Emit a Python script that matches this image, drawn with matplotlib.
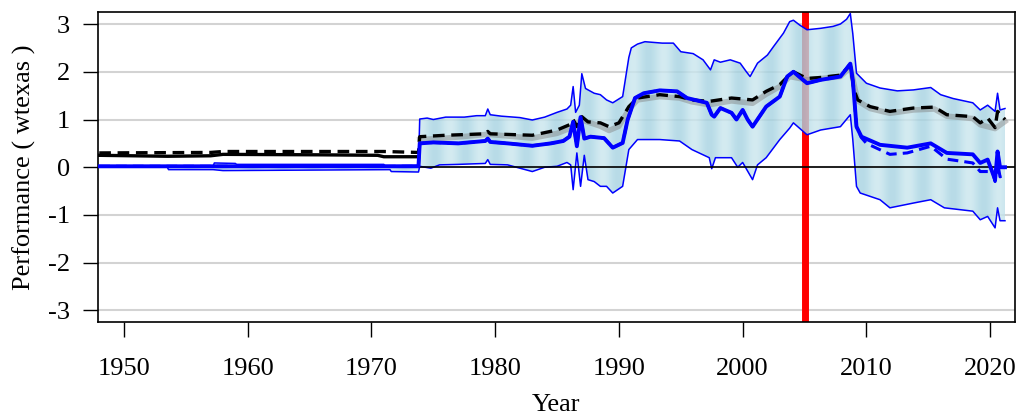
import numpy as np
import matplotlib
matplotlib.use("Agg")
import matplotlib.pyplot as plt
from matplotlib.colors import LinearSegmentedColormap

plt.rcParams['font.family'] = ['Liberation Serif', 'DejaVu Serif']

# band (upper / lower envelope)
upper_years = [1948.0, 1957.2, 1957.3, 1959.0, 1959.1, 1971.0, 1971.1, 1973.8, 1973.9, 1974.5,
               1975.0, 1976.0, 1977.5, 1978.5, 1979.2, 1979.4, 1979.6, 1980.5, 1982.0, 1983.0,
               1984.0, 1985.0, 1985.8, 1986.1, 1986.3, 1986.5, 1986.8, 1987.0, 1987.3, 1988.0,
               1988.5, 1989.0, 1989.5, 1990.3, 1990.8, 1991.0, 1991.5, 1992.1, 1993.5, 1994.4,
               1995.0, 1996.0, 1996.8, 1997.4, 1997.7, 1998.2, 1999.0, 1999.8, 2000.3, 2000.6,
               2001.2, 2002.0, 2002.5, 2003.3, 2003.8, 2004.1, 2004.6, 2005.2, 2006.3, 2007.3,
               2007.9, 2008.4, 2008.7, 2008.9, 2009.2, 2010.0, 2011.1, 2012.5, 2013.8, 2015.2,
               2016.0, 2017.0, 2018.6, 2019.2, 2019.8, 2020.4, 2020.6, 2020.8, 2021.2]
upper_vals = [0.02, 0.02, 0.09, 0.08, 0.06, 0.06, 0.03, 0.04, 1.01, 1.03,
              1.00, 1.05, 1.05, 1.08, 1.08, 1.22, 1.10, 1.07, 1.04, 0.99,
              1.05, 1.15, 1.22, 1.30, 1.69, 1.15, 1.30, 1.96, 1.65, 1.55,
              1.52, 1.41, 1.35, 1.48, 2.30, 2.50, 2.58, 2.63, 2.60, 2.60,
              2.42, 2.38, 2.25, 2.04, 2.25, 2.20, 2.25, 2.18, 2.00, 1.90,
              2.18, 2.35, 2.53, 2.81, 3.05, 3.08, 2.98, 2.88, 2.91, 2.95,
              3.00, 3.10, 3.22, 2.80, 1.97, 1.76, 1.66, 1.60, 1.62, 1.67,
              1.52, 1.44, 1.35, 1.20, 1.30, 1.17, 1.55, 1.20, 1.23]

lower_years = [1948.0, 1953.5, 1953.6, 1957.2, 1958.0, 1971.5, 1971.6, 1973.8, 1973.9, 1974.8,
               1975.5, 1977.0, 1979.2, 1979.4, 1979.6, 1981.0, 1983.0, 1984.0, 1985.0, 1985.8,
               1986.1, 1986.3, 1986.6, 1986.9, 1987.2, 1987.5, 1988.0, 1988.5, 1989.0, 1989.5,
               1990.3, 1990.8, 1991.5, 1993.3, 1994.9, 1995.9, 1997.3, 1997.5, 1997.8, 1999.1,
               1999.6, 2000.0, 2000.8, 2001.2, 2001.9, 2003.0, 2003.8, 2004.1, 2005.2, 2006.3,
               2007.9, 2008.7, 2008.9, 2009.2, 2009.5, 2011.1, 2011.9, 2013.8, 2015.2, 2016.3,
               2018.6, 2019.2, 2019.8, 2020.4, 2020.6, 2020.8, 2021.2]
lower_vals = [0.00, 0.00, -0.05, -0.05, -0.07, -0.05, -0.09, -0.10, 0.02, -0.02,
              0.05, 0.06, 0.08, 0.16, 0.06, 0.05, -0.09, 0.00, 0.02, 0.10,
              0.05, -0.47, 0.30, -0.40, 0.25, -0.26, -0.30, -0.40, -0.40, -0.54,
              -0.40, 0.37, 0.58, 0.58, 0.55, 0.37, 0.20, -0.03, 0.20, 0.20,
              0.00, 0.10, -0.26, 0.05, 0.20, 0.58, 0.82, 0.93, 0.68, 0.78,
              0.85, 1.10, 0.58, -0.40, -0.54, -0.68, -0.85, -0.75, -0.68, -0.85,
              -0.92, -1.10, -1.03, -1.27, -0.85, -1.12, -1.12]

# blue estimate (solid)
blue_years = [1948.0, 1973.8, 1973.9, 1975.0, 1977.0, 1979.2, 1979.4, 1979.6, 1981.0, 1983.0,
              1984.5, 1985.5, 1986.0, 1986.3, 1986.6, 1986.9, 1987.2, 1987.7, 1988.8, 1989.5,
              1990.3, 1990.7, 1991.3, 1992.0, 1993.3, 1994.7, 1995.5, 1997.1, 1997.5, 1997.7,
              1998.2, 1999.1, 1999.5, 2000.0, 2000.4, 2000.8, 2001.9, 2003.0, 2003.6, 2004.1,
              2005.2, 2006.3, 2007.9, 2008.7, 2008.9, 2009.2, 2009.6, 2011.1, 2013.3, 2015.2,
              2016.5, 2018.6, 2019.2, 2019.8, 2020.4, 2020.6, 2020.8, 2021.2]
blue_vals = [0.02, 0.02, 0.50, 0.52, 0.50, 0.55, 0.60, 0.53, 0.50, 0.45,
             0.50, 0.55, 0.64, 0.95, 0.44, 1.05, 0.60, 0.64, 0.61, 0.41,
             0.51, 0.99, 1.45, 1.55, 1.61, 1.59, 1.45, 1.35, 1.10, 1.06,
             1.24, 1.14, 1.00, 1.20, 1.00, 0.85, 1.27, 1.48, 1.90, 2.00,
             1.76, 1.83, 1.90, 2.17, 1.83, 0.85, 0.64, 0.47, 0.41, 0.50,
             0.30, 0.27, 0.09, 0.16, -0.26, 0.33, 0.00, 0.00]

# blue dashed: follows the solid one until 2009, then these points
blue_dash_years = [2009.6, 2010.0, 2011.9, 2013.3, 2015.2, 2016.5, 2018.6, 2019.2, 2020.2, 2020.4,
                   2020.6, 2020.8, 2021.2]
blue_dash_vals = [0.62, 0.50, 0.27, 0.30, 0.44, 0.17, 0.09, -0.09, -0.09, -0.30,
                  0.10, -0.20, -0.16]

# black dashed
black_dash_years = [1948.0, 1957.0, 1958.0, 1971.0, 1973.8, 1973.9, 1976.0, 1979.2, 1979.4, 1979.6,
                    1983.0, 1985.0, 1986.0, 1986.3, 1986.6, 1987.0, 1987.5, 1988.5, 1989.2, 1990.0,
                    1990.8, 1991.5, 1993.3, 1994.9, 1995.9, 1997.3, 1999.1, 2000.8, 2001.9, 2003.0,
                    2003.8, 2004.1, 2005.2, 2006.3, 2007.9, 2008.7, 2009.0, 2009.3, 2010.3, 2011.9,
                    2013.8, 2015.5, 2016.5, 2018.6, 2019.2, 2019.8, 2020.4, 2020.6, 2021.2]
black_dash_vals = [0.30, 0.31, 0.33, 0.33, 0.31, 0.64, 0.67, 0.70, 0.75, 0.70,
                   0.67, 0.78, 0.89, 1.00, 0.85, 1.06, 0.95, 0.93, 0.85, 0.93,
                   1.27, 1.45, 1.52, 1.48, 1.41, 1.38, 1.45, 1.41, 1.59, 1.73,
                   1.94, 2.00, 1.86, 1.88, 1.93, 2.14, 1.62, 1.41, 1.27, 1.17,
                   1.24, 1.26, 1.10, 1.06, 0.93, 1.03, 0.83, 1.17, 1.00]

# black solid (before 1974)
black_years = [1948.0, 1953.5, 1957.0, 1958.0, 1966.0, 1970.5, 1971.0, 1973.8]
black_vals = [0.25, 0.23, 0.24, 0.27, 0.26, 0.25, 0.22, 0.22]

# grey line (after 1974)
grey_years = [1973.9, 1976.0, 1979.4, 1983.0, 1985.0, 1986.0, 1987.0, 1988.5, 1989.2, 1990.0,
              1990.8, 1991.5, 1993.3, 1994.9, 1995.9, 1997.3, 1999.1, 2000.8, 2001.9, 2003.0,
              2003.8, 2005.2, 2007.9, 2008.7, 2009.3, 2010.3, 2011.9, 2013.8, 2015.5, 2016.5,
              2018.6, 2019.2, 2020.4, 2021.2]
grey_vals = [0.58, 0.61, 0.69, 0.61, 0.71, 0.81, 0.99, 0.86, 0.77, 0.86,
             1.21, 1.41, 1.48, 1.45, 1.37, 1.31, 1.39, 1.34, 1.53, 1.69,
             1.90, 1.83, 1.90, 2.09, 1.39, 1.23, 1.13, 1.20, 1.22, 1.07,
             1.02, 0.89, 0.81, 0.96]

event_year = 2005
y_ticks = [-3, -2, -1, 0, 1, 2, 3]
x_ticks = [1950, 1960, 1970, 1980, 1990, 2000, 2010, 2020]

fig = plt.figure(figsize=(10.21, 4.17), dpi=100)
ax = fig.add_axes([0.096, 0.228, 0.898, 0.743])

for yv in y_ticks:
    ax.axhline(yv, color='#d3d3d3', lw=1.5, zorder=0)

ax.axvline(event_year, color='red', lw=5, zorder=1)

# striped light blue band
poly_x = upper_years + lower_years[::-1]
poly_y = upper_vals + lower_vals[::-1]
band = ax.fill(poly_x, poly_y, facecolor='none', edgecolor='none', zorder=2)[0]
stripe = np.cos(np.linspace(0, 2 * np.pi * 30, 800))[None, :]
cmap = LinearSegmentedColormap.from_list('band', ['#c9e6ee', '#a6d3e2'])
img = ax.imshow(stripe, extent=[1948, 2022, -3.3, 3.3], aspect='auto', cmap=cmap,
                alpha=0.8, zorder=2, interpolation='bilinear')
img.set_clip_path(band)

ax.plot(upper_years, upper_vals, color='blue', lw=1.1, zorder=3)
ax.plot(lower_years, lower_vals, color='blue', lw=1.1, zorder=3)

ax.axhline(0, color='black', lw=1.2, zorder=3)

ax.plot(grey_years, grey_vals, color='grey', lw=4, alpha=0.45, zorder=4)
ax.plot(black_years, black_vals, color='black', lw=2.4, zorder=4)
ax.plot(black_dash_years, black_dash_vals, color='black', lw=2.4, ls=(0, (3.5, 2)), zorder=5)

early = [i for i, yr in enumerate(blue_years) if yr < 2009.5]
ax.plot([blue_years[i] for i in early] + blue_dash_years,
        [blue_vals[i] for i in early] + blue_dash_vals,
        color='blue', lw=2.2, ls=(0, (3.5, 2)), zorder=5)
ax.plot(blue_years, blue_vals, color='blue', lw=2.8, zorder=6)

ax.set_xlim(1947.9, 2022.0)
ax.set_ylim(-3.24, 3.25)
ax.set_xticks(x_ticks)
ax.set_yticks(y_ticks)
ax.set_yticklabels([str(v) for v in y_ticks])
ax.tick_params(axis='x', length=11, width=1, pad=15, labelsize=19)
ax.tick_params(axis='y', length=11, width=1, pad=9, labelsize=19)
for s in ax.spines.values():
    s.set_linewidth(1.2)
ax.set_xlabel('Year', fontsize=19, labelpad=10)
ax.set_ylabel('Performance ( wtexas )', fontsize=19, labelpad=9)

fig.savefig('out.png', dpi=100)
